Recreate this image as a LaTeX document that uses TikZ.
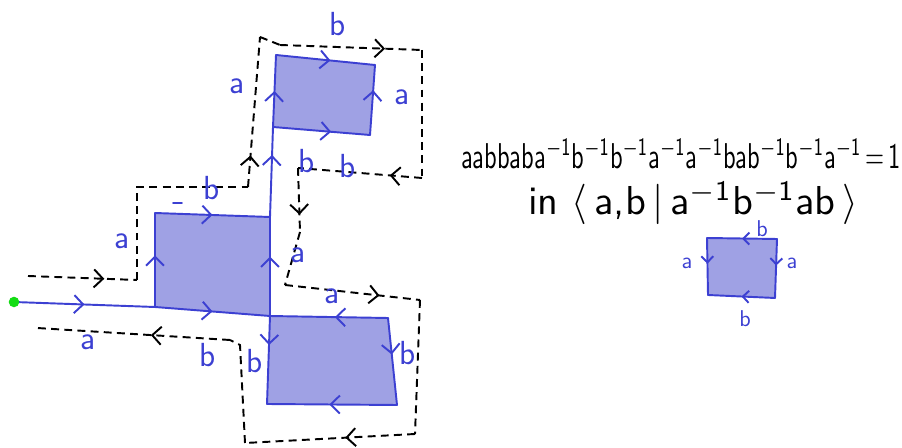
\documentclass[tikz,border=0pt]{standalone}
\usetikzlibrary{arrows.meta,decorations.markings}

\definecolor{penblue}{RGB}{60,64,210}
\definecolor{sheetfill}{RGB}{159,161,228}
\definecolor{dotgreen}{RGB}{20,220,20}

\tikzset{
  bluepen/.style={draw=penblue, color=penblue, line width=1.1pt, line join=round, line cap=round},
  sheet/.style={fill=sheetfill},
  pathdash/.style={draw=black, line width=1.1pt, dash pattern=on 4.5pt off 3pt},
  lbl/.style={text=penblue, font=\sffamily\fontsize{19}{19}\selectfont, inner sep=0pt},
  smalllbl/.style={text=penblue, font=\sffamily\fontsize{13}{13}\selectfont, inner sep=0pt},
  arrowat/.style={postaction={decorate}, decoration={markings,
      mark=at position #1 with {\arrow{Straight Barb[length=1.8mm,width=3.6mm]}}}},
  smallarrowat/.style={postaction={decorate}, decoration={markings,
      mark=at position #1 with {\arrow{Straight Barb[length=1.2mm,width=2.4mm]}}}},
}

\begin{document}
\begin{tikzpicture}[x=0.02cm, y=-0.02cm]
    \useasboundingbox (0,0) rectangle (902,448);

    % Corners of the squares
    \coordinate (start) at (14,302);
    \coordinate (mBL) at (155,307);
    \coordinate (mTL) at (155,213);
    \coordinate (mTR) at (270,217);
    \coordinate (mBR) at (270,316);
    \coordinate (bTR) at (388,318);
    \coordinate (bBR) at (397,405);
    \coordinate (bBL) at (267,404);
    \coordinate (tTL) at (276,55);
    \coordinate (tTR) at (375,65);
    \coordinate (tBR) at (370,135);
    \coordinate (tBL) at (273,127);

    % Shaded squares
    \fill[sheet] (mBL) -- (mTL) -- (mTR) -- (mBR) -- cycle;
    \fill[sheet] (mBR) -- (bTR) -- (bBR) -- (bBL) -- cycle;
    \fill[sheet] (tTL) -- (tTR) -- (tBR) -- (tBL) -- cycle;

    % Blue edges
    \draw[bluepen, arrowat=0.5] (start) -- (mBL);
    \draw[bluepen, arrowat=0.5] (mBL) -- (mBR);
    \draw[bluepen, arrowat=0.55] (mBL) -- (mTL);
    \draw[bluepen, arrowat=0.5] (mTL) -- (mTR);
    \draw[bluepen, arrowat=0.6] (mBR) -- (mTR);
    \draw[bluepen, arrowat=0.69] (mTR) -- (tBL);
    \draw[bluepen, arrowat=0.5] (tBL) -- (tTL);
    \draw[bluepen, arrowat=0.64] (tBR) -- (tTR);
    \draw[bluepen, arrowat=0.6] (tBL) -- (tBR);
    \draw[bluepen, arrowat=0.55] (tTL) -- (tTR);
    \draw[bluepen, arrowat=0.45] (bTR) -- (mBR);
    \draw[bluepen, arrowat=0.33] (mBR) -- (bBL);
    \draw[bluepen, arrowat=0.42] (bTR) -- (bBR);
    \draw[bluepen, arrowat=0.52] (bBR) -- (bBL);
    \draw[bluepen] (173,203) -- (182,203);

    % Base point
    \fill[dotgreen] (start) circle (3pt);

    % Dashed loop
    \coordinate (d0) at (28,276);
    \coordinate (d1) at (137,280);
    \coordinate (d2) at (137,187);
    \coordinate (d3) at (248,187);
    \coordinate (d5) at (260,37);
    \coordinate (d6) at (280,45);
    \coordinate (d7) at (422,50);
    \coordinate (d8) at (422,178);
    \coordinate (d9) at (298,168);
    \coordinate (d10) at (300,232);
    \coordinate (d11) at (285,285);
    \coordinate (d12) at (420,300);
    \coordinate (d13) at (415,434);
    \coordinate (d14) at (245,443);
    \coordinate (d15) at (240,345);
    \coordinate (d16) at (230,340);
    \coordinate (d17) at (37,328);
    \draw[pathdash, arrowat=0.7] (d0) -- (d1);
    \draw[pathdash] (d1) -- (d2) -- (d3);
    \draw[pathdash, arrowat=0.21] (d3) -- (d5);
    \draw[pathdash] (d5) -- (d6);
    \draw[pathdash, arrowat=0.74] (d6) -- (d7);
    \draw[pathdash] (d7) -- (d8);
    \draw[pathdash, arrowat=0.26] (d8) -- (d9);
    \draw[pathdash, arrowat=0.73] (d9) -- (d10);
    \draw[pathdash] (d10) -- (d11);
    \draw[pathdash, arrowat=0.7] (d11) -- (d12);
    \draw[pathdash] (d12) -- (d13);
    \draw[pathdash, arrowat=0.41] (d13) -- (d14);
    \draw[pathdash] (d14) -- (d15) -- (d16);
    \draw[pathdash, arrowat=0.41] (d16) -- (d17);

    % Edge labels
    \node[lbl] (la1) at (88,342) {a};
    \node[lbl] (lb1) at (208,355) {b};
    \node[lbl] (lb2) at (255,361) {b};
    \node[lbl] (lb3) at (408,353) {b};
    \node[lbl] (la2) at (332,296) {a};
    \node[lbl] (la3) at (298,255) {a};
    \node[lbl] (la4) at (122,241) {a};
    \node[lbl] (lb4) at (212,188) {b};
    \node[lbl] (la5) at (237,86) {a};
    \node[lbl] (la6) at (402,97) {a};
    \node[lbl] (lb5) at (338,24) {b};
    \node[lbl] (lb6) at (307,161) {b};
    \node[lbl] (lb7) at (348,166) {b};

    % The word and the presentation
    \node[inner sep=0pt] (word) at (681,154) {\resizebox{8.8cm}{0.6cm}{\sffamily
      aabbaba\textsuperscript{$-$1}b\textsuperscript{$-$1}b\textsuperscript{$-$1}a\textsuperscript{$-$1}a\textsuperscript{$-$1}bab\textsuperscript{$-$1}b\textsuperscript{$-$1}a\textsuperscript{$-$1}\,=\,1}};
    \node[inner sep=0pt] (pres) at (693,203) {\resizebox{6.6cm}{!}{\sffamily
      in $\langle$\,a,b\,$|$\,a\textsuperscript{$-$1}b\textsuperscript{$-$1}ab\,$\rangle$}};

    % Relator square
    \coordinate (rTL) at (707,238);
    \coordinate (rTR) at (777,239);
    \coordinate (rBR) at (775,298);
    \coordinate (rBL) at (708,295);
    \fill[sheet] (rTL) -- (rTR) -- (rBR) -- (rBL) -- cycle;
    \draw[bluepen, smallarrowat=0.5] (rTR) -- (rTL);
    \draw[bluepen, smallarrowat=0.45] (rTL) -- (rBL);
    \draw[bluepen, smallarrowat=0.45] (rTR) -- (rBR);
    \draw[bluepen, smallarrowat=0.5] (rBR) -- (rBL);
    \node[smalllbl] (rb1) at (762,229) {b};
    \node[smalllbl] (ra1) at (687,263) {a};
    \node[smalllbl] (ra2) at (792,263) {a};
    \node[smalllbl] (rb2) at (745,319) {b};
\end{tikzpicture}
\end{document}
